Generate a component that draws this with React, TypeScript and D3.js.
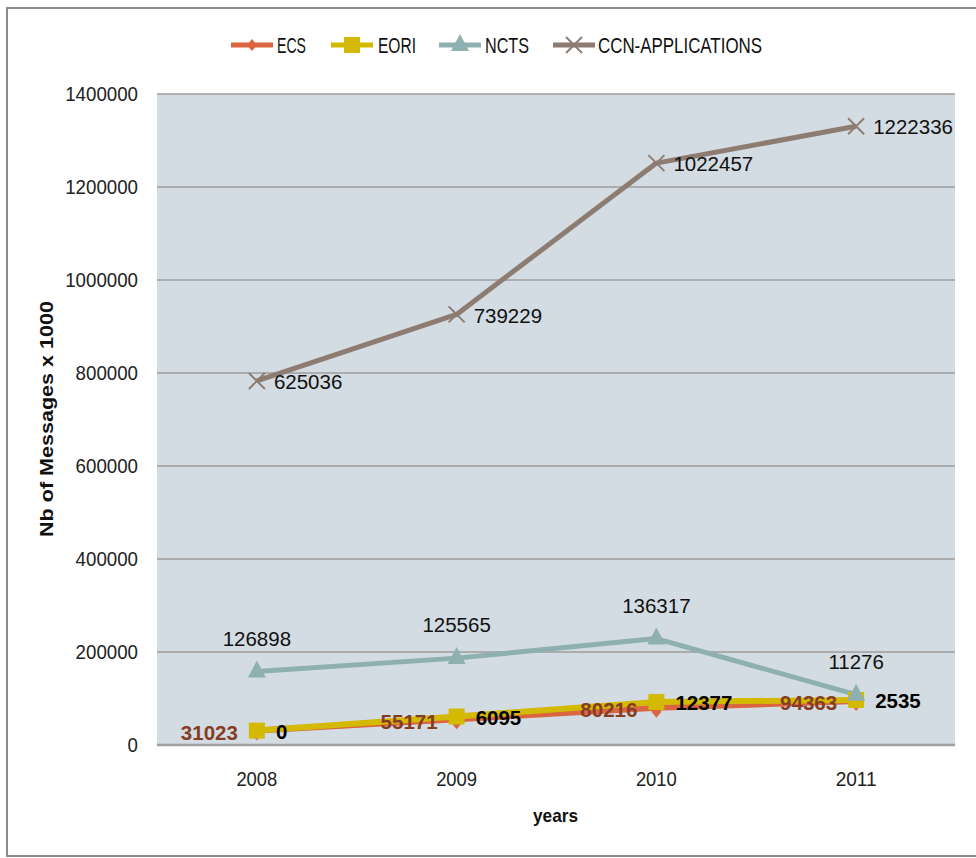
import React from 'react';
import * as d3 from 'd3';

const years = ['2008', '2009', '2010', '2011'];
const ecs = [31023, 55171, 80216, 94363];
const eori = [0, 6095, 12377, 2535];
const ncts = [126898, 125565, 136317, 11276];
const ccn = [625036, 739229, 1022457, 1222336];
const yTicks = [0, 200000, 400000, 600000, 800000, 1000000, 1200000, 1400000];
const seriesNames = ['ECS', 'EORI', 'NCTS', 'CCN-APPLICATIONS'];
const seriesKeys = ['ecs', 'eori', 'ncts', 'ccn'];

const COLORS: Record<string, string> = {
  ecs: '#DA6540',
  eori: '#D3B900',
  ncts: '#8FB0B0',
  ccn: '#8D7C72',
};

const FONT = '"Liberation Sans", Arial, sans-serif';

const W = 976;
const H = 858;
const plot = { left: 157, right: 955, top: 94, bottom: 745 };

function Marker({ k, x, y }: { k: string; x: number; y: number }) {
  const c = COLORS[k];
  if (k === 'ecs') {
    return <path d={`M${x},${y - 6} L${x + 5},${y} L${x},${y + 6} L${x - 5},${y} Z`} fill={c} />;
  }
  if (k === 'eori') {
    return <rect x={x - 8} y={y - 8} width={16} height={16} fill={c} />;
  }
  if (k === 'ncts') {
    return <path d={`M${x},${y - 11} L${x + 9},${y + 6} L${x - 9},${y + 6} Z`} fill={c} />;
  }
  return (
    <g stroke="#8D7C72" strokeWidth={2}>
      <line x1={x - 8} y1={y - 8} x2={x + 8} y2={y + 8} />
      <line x1={x - 8} y1={y + 8} x2={x + 8} y2={y - 8} />
    </g>
  );
}

export default function App() {
  const rows = years.map((yr, i) => ({ year: yr, ecs: ecs[i], eori: eori[i], ncts: ncts[i], ccn: ccn[i] }));
  const stacked = d3.stack<any>().keys(seriesKeys)(rows);

  const x = d3.scalePoint<string>().domain(years).range([plot.left, plot.right + 1]).padding(0.5);
  const y = d3.scaleLinear().domain([0, 1400000]).range([plot.bottom, plot.top]);

  const line = d3
    .line<[number, number]>()
    .x((d, i) => x(years[i]) as number)
    .y((d) => y(d[1]));

  const widths: Record<string, number> = { ecs: 6, eori: 6, ncts: 5, ccn: 5 };

  const legendItems = [
    { k: 'ecs', lx: 231, tx: 277, tw: 29 },
    { k: 'eori', lx: 331, tx: 378, tw: 38 },
    { k: 'ncts', lx: 439, tx: 485, tw: 44 },
    { k: 'ccn', lx: 553, tx: 598, tw: 164 },
  ];

  return (
    <svg
      width={W}
      height={H}
      style={{ position: 'absolute', left: 0, top: 0, background: '#fff' }}
      fontFamily={FONT}
    >
      <rect x={7} y={8} width={990} height={848} fill="#fff" stroke="#8A8A8A" strokeWidth={2} />

      {/* plot area */}
      <rect x={plot.left} y={plot.top} width={plot.right - plot.left} height={plot.bottom - plot.top} fill="#D3DCE2" />
      {yTicks.map((t) => (
        <line key={t} x1={plot.left} x2={plot.right} y1={y(t)} y2={y(t)} stroke="#9C9C9C" strokeWidth={1.5} />
      ))}
      <line x1={plot.left} x2={plot.right} y1={plot.bottom} y2={plot.bottom} stroke="#A0A0A0" strokeWidth={2.5} />

      {/* y tick labels */}
      {yTicks.map((t) => (
        <text key={t} x={138} y={y(t)} dy="0.35em" textAnchor="end" fontSize={19.5} textLength={String(t).length * 10.4} lengthAdjust="spacingAndGlyphs" fill="#222">
          {t}
        </text>
      ))}
      {/* x tick labels */}
      {years.map((yr) => (
        <text key={yr} x={(x(yr) as number) - 20.5} y={779} dy="0.35em" fontSize={20} textLength={41} lengthAdjust="spacingAndGlyphs" fill="#222">
          {yr}
        </text>
      ))}

      {/* axis titles */}
      <text
        transform={`translate(47,419) rotate(-90)`}
        textAnchor="middle"
        dy="0.35em"
        fontSize={18.5}
        fontWeight="bold"
        textLength={236}
        lengthAdjust="spacingAndGlyphs"
        fill="#111"
      >
        Nb of Messages x 1000
      </text>
      <text x={533} y={815} dy="0.35em" fontSize={19} fontWeight="bold" textLength={45} lengthAdjust="spacingAndGlyphs" fill="#111">
        years
      </text>

      {/* lines */}
      {stacked.map((s: any) => (
        <path
          key={s.key}
          d={line(s.map((d: any) => [d[0], d[1]])) as string}
          fill="none"
          stroke={COLORS[s.key]}
          strokeWidth={widths[s.key]}
          strokeLinejoin="round"
        />
      ))}
      {/* markers */}
      {stacked.map((s: any) =>
        s.map((d: any, i: number) => (
          <Marker key={s.key + i} k={s.key} x={x(years[i]) as number} y={y(d[1]) + (s.key === 'ecs' ? 4 : 0)} />
        ))
      )}

      {/* data labels */}
      {stacked.map((s: any) =>
        s.map((d: any, i: number) => {
          const px = x(years[i]) as number;
          const py = y(d[1]);
          const v = d[1] - d[0];
          if (s.key === 'ecs') {
            return (
              <text key={'l' + s.key + i} x={px - 19} y={py + 2} dy="0.35em" textAnchor="end" fontSize={20.5} fontWeight="bold" fill="#843C24">
                {v}
              </text>
            );
          }
          if (s.key === 'eori') {
            return (
              <text key={'l' + s.key + i} x={px + 19} y={py + 1} dy="0.35em" textAnchor="start" fontSize={20.5} fontWeight="bold" fill="#000">
                {v}
              </text>
            );
          }
          if (s.key === 'ncts') {
            return (
              <text key={'l' + s.key + i} x={px} y={py - 33} dy="0.35em" textAnchor="middle" fontSize={20.5} fill="#111">
                {v}
              </text>
            );
          }
          return (
            <text key={'l' + s.key + i} x={px + 17} y={py + 1} dy="0.35em" textAnchor="start" fontSize={20.5} fill="#111">
              {v}
            </text>
          );
        })
      )}

      {/* legend */}
      {legendItems.map((it, i) => (
        <g key={it.k}>
          <line x1={it.lx} x2={it.lx + 42} y1={45} y2={45} stroke={COLORS[it.k]} strokeWidth={5} />
          <Marker k={it.k} x={it.lx + 21} y={45} />
          <text
            x={it.tx}
            y={45}
            dy="0.35em"
            fontSize={22}
            textLength={it.tw}
            lengthAdjust="spacingAndGlyphs"
            fill="#111"
          >
            {seriesNames[i]}
          </text>
        </g>
      ))}
    </svg>
  );
}
